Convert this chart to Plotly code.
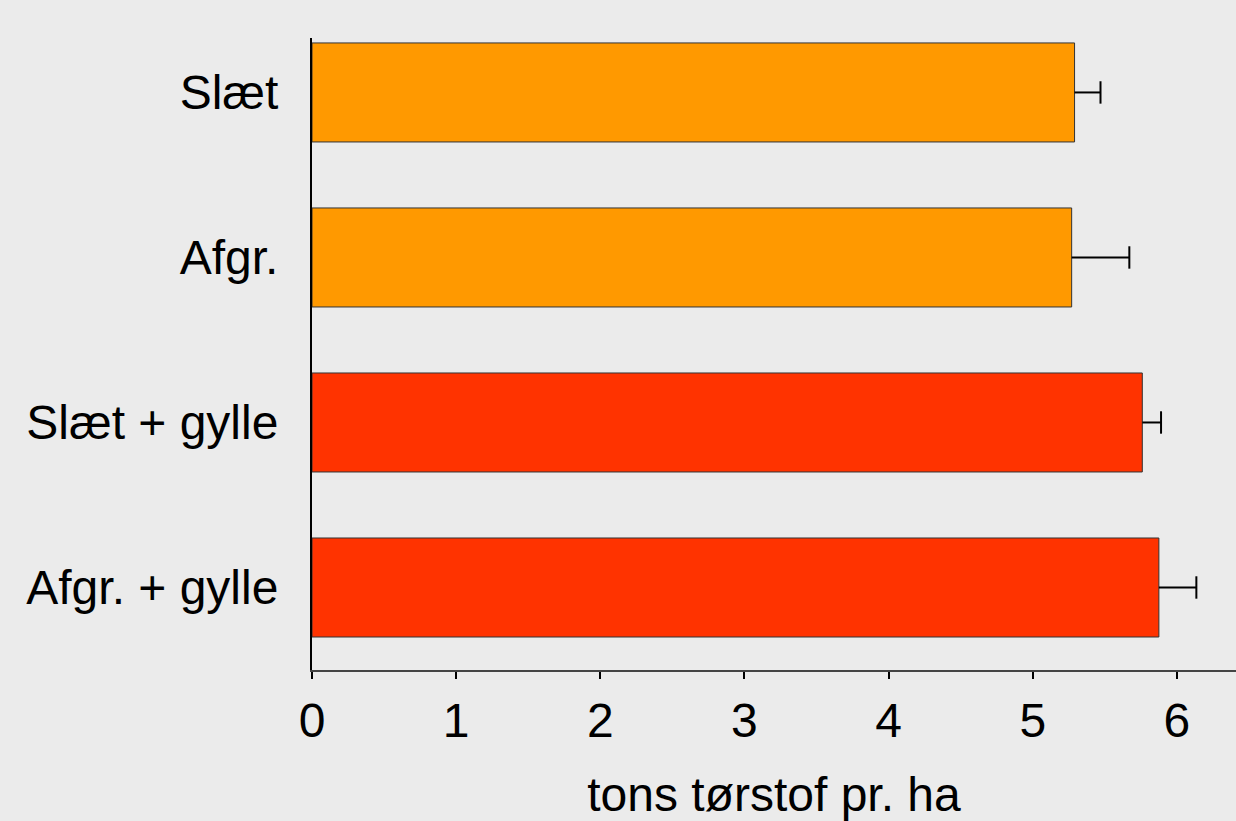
import plotly.graph_objects as go

categories = ["Slæt", "Afgr.", "Slæt + gylle", "Afgr. + gylle"]
values = [5.29, 5.27, 5.76, 5.875]
errors = [0.18, 0.40, 0.13, 0.26]
colors = ["#FF9900", "#FF9900", "#FF3300", "#FF3300"]
x_ticks = [0, 1, 2, 3, 4, 5, 6]
x_title = "tons tørstof pr. ha"

FONT = "Liberation Sans, Arial, sans-serif"
FS = 48

fig = go.Figure()
fig.add_trace(
    go.Bar(
        y=categories,
        x=values,
        orientation="h",
        marker=dict(color=colors, line=dict(color="#333333", width=1)),
        width=0.6,
        hoverinfo="skip",
    )
)

# one-sided error bars (plus direction only, no cap at the bar end)
ex, ey = [], []
for c, v, e in zip(categories, values, errors):
    ex += [v, v + e, None]
    ey += [c, c, None]
fig.add_trace(
    go.Scatter(
        x=ex, y=ey, mode="lines",
        line=dict(color="black", width=2),
        hoverinfo="skip",
    )
)
fig.add_trace(
    go.Scatter(
        x=[v + e for v, e in zip(values, errors)],
        y=categories,
        mode="markers",
        marker=dict(symbol="line-ns-open", size=16, color="black",
                    line=dict(color="black", width=2)),
        hoverinfo="skip",
    )
)

fig.update_layout(
    width=1236,
    height=821,
    margin=dict(l=312, r=0, t=38, b=151),
    paper_bgcolor="#EBEBEB",
    plot_bgcolor="#EBEBEB",
    showlegend=False,
    font=dict(family=FONT, size=FS, color="black"),
    xaxis=dict(
        range=[0, 6.41],
        tickvals=x_ticks,
        ticktext=[str(t) for t in x_ticks],
        ticks="outside",
        ticklen=7,
        tickwidth=2,
        tickcolor="black",
        showline=True,
        linecolor="#444444",
        linewidth=2,
        showgrid=False,
        zeroline=False,
        tickfont=dict(size=FS),
        title=dict(text=x_title, font=dict(size=FS), standoff=32),
    ),
    yaxis=dict(
        type="category",
        categoryorder="array",
        categoryarray=categories,
        range=[3.5, -0.33],
        showline=True,
        linecolor="black",
        linewidth=2,
        ticks="",
        showgrid=False,
        zeroline=False,
        tickfont=dict(size=FS),
        ticklabelstandoff=22,
    ),
)

fig.write_html(
    "out.html",
    config={"displayModeBar": False},
    post_script="document.body.style.margin='0';document.body.style.background='#EBEBEB';",
)
